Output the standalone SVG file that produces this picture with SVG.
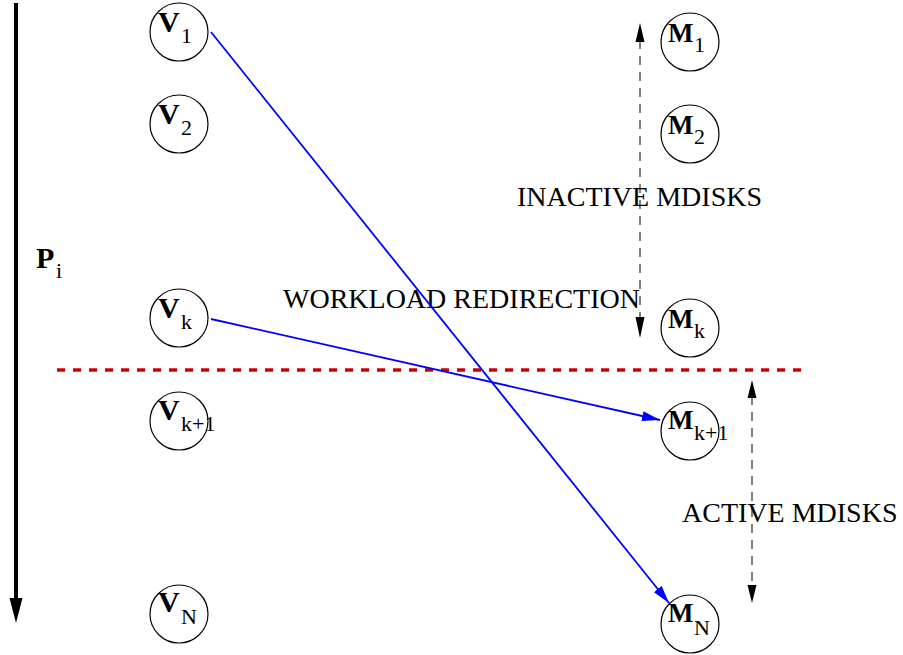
<svg xmlns="http://www.w3.org/2000/svg" width="903" height="655" viewBox="0 0 903 655">
  <defs>
    <style>
      .node circle { fill: none; stroke: #000; stroke-width: 1.2; }
      .lbl { font-family: "Liberation Serif", "Times New Roman", serif; fill: #000; }
      .big { font-weight: bold; font-size: 30px; }
      .bigm { font-weight: bold; font-size: 27px; }
      .sub { font-size: 22px; }
      .cap { font-family: "Liberation Serif", "Times New Roman", serif; font-size: 28px; fill: #000; }
      .blue { stroke: #0000ff; stroke-width: 1.8; fill: none; }
      .span { stroke: #000; stroke-width: 1; fill: none; stroke-dasharray: 9 7; }
    </style>
    <marker id="ahBlue" viewBox="0 0 18 10" refX="18" refY="5" markerWidth="18" markerHeight="10" markerUnits="userSpaceOnUse" orient="auto">
      <path d="M0,0 L18,5 L0,10 Z" fill="#0000ff"/>
    </marker>
  </defs>

  <!-- process axis -->
  <g id="axis-p">
    <line x1="16" y1="3" x2="16" y2="600" stroke="#000" stroke-width="4"/>
    <path d="M9.5,598 L22.5,598 L16,623 Z" fill="#000"/>
    <text class="lbl big" x="36" y="268">P</text>
    <text class="lbl sub" x="56" y="278">i</text>
  </g>

  <!-- V column -->
  <g id="v1" class="node">
    <circle cx="179" cy="32" r="29"/>
    <text class="lbl big" x="158" y="32">V</text><text class="lbl sub" x="181" y="43">1</text>
  </g>
  <g id="v2" class="node">
    <circle cx="179" cy="124" r="29"/>
    <text class="lbl big" x="158" y="124">V</text><text class="lbl sub" x="181" y="135">2</text>
  </g>
  <g id="vk" class="node">
    <circle cx="179" cy="318" r="29"/>
    <text class="lbl big" x="158" y="318">V</text><text class="lbl sub" x="181" y="329">k</text>
  </g>
  <g id="vk1" class="node">
    <circle cx="179" cy="421" r="29"/>
    <text class="lbl big" x="158" y="420">V</text><text class="lbl sub" x="181" y="431">k+1</text>
  </g>
  <g id="vn" class="node">
    <circle cx="179" cy="614" r="29"/>
    <text class="lbl big" x="158" y="612">V</text><text class="lbl sub" x="181" y="624">N</text>
  </g>

  <!-- M column -->
  <g id="m1" class="node">
    <circle cx="690" cy="42" r="29"/>
    <text class="lbl bigm" x="668" y="42">M</text><text class="lbl sub" x="694" y="52">1</text>
  </g>
  <g id="m2" class="node">
    <circle cx="690" cy="134" r="29"/>
    <text class="lbl bigm" x="668" y="134">M</text><text class="lbl sub" x="694" y="144">2</text>
  </g>
  <g id="mk" class="node">
    <circle cx="690" cy="328" r="29"/>
    <text class="lbl bigm" x="668" y="328">M</text><text class="lbl sub" x="694" y="338">k</text>
  </g>
  <g id="mk1" class="node">
    <circle cx="690" cy="431" r="29"/>
    <text class="lbl bigm" x="668" y="429">M</text><text class="lbl sub" x="694" y="440">k+1</text>
  </g>
  <g id="mn" class="node">
    <circle cx="690" cy="624" r="29"/>
    <text class="lbl bigm" x="668" y="622">M</text><text class="lbl sub" x="694" y="635">N</text>
  </g>

  <!-- captions -->
  <g id="captions">
    <text class="cap" x="517" y="206">INACTIVE MDISKS</text>
    <text class="cap" x="283" y="308">WORKLOAD REDIRECTION</text>
    <text class="cap" x="682" y="522">ACTIVE MDISKS</text>
  </g>

  <!-- active / inactive boundary -->
  <g id="boundary">
    <line x1="57" y1="370" x2="802" y2="370" stroke="#d00000" stroke-width="3.5" stroke-dasharray="8 8"/>
  </g>

  <g id="connectors">
    <line class="blue" x1="211" y1="32" x2="669" y2="603" marker-end="url(#ahBlue)"/>
    <line class="blue" x1="211" y1="319" x2="660" y2="420" marker-end="url(#ahBlue)"/>
    <line class="span" x1="640" y1="40" x2="640" y2="320"/>
    <path d="M635.5,42 L644.5,42 L640,23 Z" fill="#000"/>
    <path d="M635.5,317 L644.5,317 L640,338 Z" fill="#000"/>
    <line class="span" x1="752" y1="396" x2="752" y2="588"/>
    <path d="M747.5,398 L756.5,398 L752,380 Z" fill="#000"/>
    <path d="M747.5,585 L756.5,585 L752,603 Z" fill="#000"/>
  </g>
</svg>
